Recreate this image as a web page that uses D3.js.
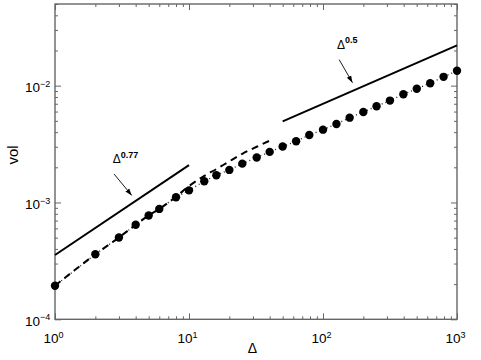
<!DOCTYPE html>
<html><head><meta charset="utf-8">
<script src="https://cdn.jsdelivr.net/npm/d3@7"></script>
<style>
body{margin:0;background:#fff;}
text{font-family:"Liberation Sans",Arial,Helvetica,sans-serif;}
</style></head>
<body><svg id="c" width="481" height="360"></svg>
<script>
// data
const deltas = [1,2,3,4,5,6,8,10,13,16,20,25,32,40,50,63,79,100,126,158,200,251,316,398,501,631,794,1000];
const vol = [1.94e-4,3.60e-4,5.02e-4,6.44e-4,7.74e-4,8.81e-4,1.11e-3,1.27e-3,1.52e-3,1.71e-3,1.90e-3,2.15e-3,2.43e-3,2.71e-3,3.01e-3,3.34e-3,3.78e-3,4.20e-3,4.70e-3,5.32e-3,5.95e-3,6.66e-3,7.45e-3,8.43e-3,9.42e-3,1.05e-2,1.19e-2,1.34e-2];
const dashX = [1,2,3,4,5,6,8,10,13,16,20,25,32,40];
const dashY = [1.94e-4,3.60e-4,5.02e-4,6.44e-4,7.74e-4,8.81e-4,1.12e-3,1.38e-3,1.69e-3,1.93e-3,2.25e-3,2.61e-3,3.0e-3,3.38e-3];
const fit077X = [1,10];
const fit077Y = [3.55e-4, 3.55e-4*Math.pow(10,0.77)];
const fit05X = [50,1000];
const fit05Y = [4.95e-3, 4.95e-3*Math.sqrt(20)];
const xTickLabels = ["0","1","2","3"];
const yTickLabels = ["\u22124","\u22123","\u22122"];
const annotations = [
  {label:"\u0394", exp:"0.77", lx:2.70, ly:2.17e-3, ax1:2.76, ay1:1.75e-3, ax2:3.74, ay2:1.15e-3},
  {label:"\u0394", exp:"0.5", lx:127, ly:2.07e-2, ax1:132, ay1:1.67e-2, ax2:166, ay2:1.06e-2}
];

const svg = d3.select("#c");
const L=55, R=457, T=4, B=319.3;
const x = d3.scaleLog().domain([1,1000]).range([L,R]);
const y = d3.scaleLog().domain([1e-4,0.05]).range([B,T]);

const majX=[1,10,100,1000], majY=[1e-4,1e-3,1e-2];
const minX=[], minY=[];
[1,10,100].forEach(d=>{for(let k=2;k<=9;k++)minX.push(d*k);});
[1e-4,1e-3,1e-2].forEach(d=>{for(let k=2;k<=9;k++){const v=d*k; if(v<=0.05)minY.push(v);}});

const axCol="#666";
function styleAxis(g){g.select(".domain").remove();g.selectAll("line").attr("stroke",axCol).attr("stroke-width",1);}
// minor ticks
svg.append("g").attr("transform",`translate(0,${B})`).call(d3.axisBottom(x).tickValues(minX).tickSize(-3).tickFormat("")).call(styleAxis);
svg.append("g").attr("transform",`translate(0,${T})`).call(d3.axisTop(x).tickValues(minX).tickSize(-3).tickFormat("")).call(styleAxis);
svg.append("g").attr("transform",`translate(${L},0)`).call(d3.axisLeft(y).tickValues(minY).tickSize(-3).tickFormat("")).call(styleAxis);
svg.append("g").attr("transform",`translate(${R},0)`).call(d3.axisRight(y).tickValues(minY).tickSize(-3).tickFormat("")).call(styleAxis);
// major ticks
svg.append("g").attr("transform",`translate(0,${T})`).call(d3.axisTop(x).tickValues(majX).tickSize(-6).tickFormat("")).call(styleAxis);
svg.append("g").attr("transform",`translate(${R},0)`).call(d3.axisRight(y).tickValues(majY).tickSize(-6).tickFormat("")).call(styleAxis);
const gx = svg.append("g").attr("transform",`translate(0,${B})`).call(d3.axisBottom(x).tickValues(majX).tickSize(-6).tickPadding(14)).call(styleAxis);
gx.selectAll("text").each(function(d,i){
  const t=d3.select(this).text(null).attr("fill","#000").attr("font-size",13.5).attr("dy","0.71em").attr("x",-2);
  t.append("tspan").text("10");
  t.append("tspan").text(xTickLabels[i]).attr("font-size",9).attr("dy","-0.55em");
});
const gy = svg.append("g").attr("transform",`translate(${L},0)`).call(d3.axisLeft(y).tickValues(majY).tickSize(-6).tickPadding(12)).call(styleAxis);
gy.selectAll("text").each(function(d,i){
  const t=d3.select(this).text(null).attr("fill","#000").attr("font-size",13.5).attr("dy","0.45em");
  t.append("tspan").text("10");
  t.append("tspan").text(yTickLabels[i]).attr("font-size",9).attr("dy","-0.6em");
  t.attr("text-anchor","start").attr("x",-30);
});
// frame
svg.append("rect").attr("x",L).attr("y",T).attr("width",R-L).attr("height",B-T).attr("fill","none").attr("stroke",axCol).attr("stroke-width",1.4);

const line = d3.line().x(d=>x(d[0])).y(d=>y(d[1]));
// dotted through points
svg.append("path").datum(deltas.map((d,i)=>[d,vol[i]])).attr("d",line).attr("fill","none").attr("stroke","#222").attr("stroke-width",1.3).attr("stroke-dasharray","1,3");
// dashed
svg.append("path").datum(dashX.map((d,i)=>[d,dashY[i]])).attr("d",d3.line().curve(d3.curveMonotoneX).x(d=>x(d[0])).y(d=>y(d[1]))).attr("fill","none").attr("stroke","#000").attr("stroke-width",2).attr("stroke-dasharray","7,5");
// fit lines
svg.append("path").datum(fit077X.map((d,i)=>[d,fit077Y[i]])).attr("d",line).attr("fill","none").attr("stroke","#000").attr("stroke-width",2);
svg.append("path").datum(fit05X.map((d,i)=>[d,fit05Y[i]])).attr("d",line).attr("fill","none").attr("stroke","#000").attr("stroke-width",2);
// points
svg.append("g").selectAll("circle").data(deltas).join("circle").attr("cx",d=>x(d)).attr("cy",(d,i)=>y(vol[i])).attr("r",4.2).attr("fill","#000");

// arrows
svg.append("defs").append("marker").attr("id","ah").attr("viewBox","0 0 10 10").attr("refX",10).attr("refY",5)
  .attr("markerWidth",7).attr("markerHeight",7).attr("orient","auto").attr("markerUnits","userSpaceOnUse")
  .append("path").attr("d","M0,1.5L10,5L0,8.5Z").attr("fill","#000");
annotations.forEach(a=>{
  svg.append("line").attr("x1",x(a.ax1)).attr("y1",y(a.ay1)).attr("x2",x(a.ax2)).attr("y2",y(a.ay2)).attr("stroke","#000").attr("stroke-width",0.9).attr("marker-end","url(#ah)");
  const t=svg.append("text").attr("x",x(a.lx)).attr("y",y(a.ly)).attr("font-size",12);
  t.append("tspan").text(a.label);
  t.append("tspan").text(a.exp).attr("font-size",9).attr("font-weight","bold").attr("dy","-0.6em");
});

// axis labels
svg.append("text").attr("x",252.5).attr("y",353).attr("text-anchor","middle").attr("font-size",14).text("\u0394");
svg.append("text").attr("transform","translate(18,155) rotate(-90)").attr("text-anchor","middle").attr("font-size",15).text("vol");
</script></body></html>
